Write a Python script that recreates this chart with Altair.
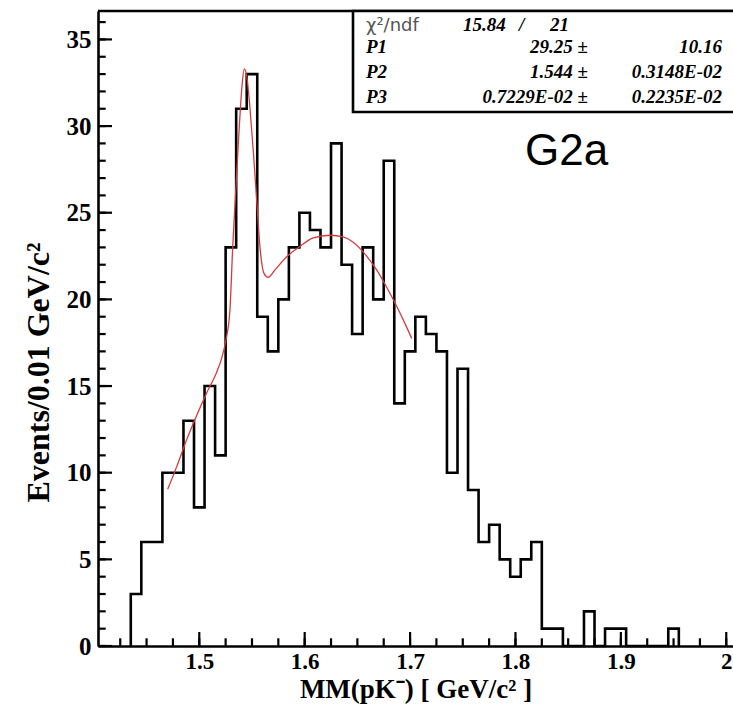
import altair as alt
import pandas as pd

# ---------------- data ----------------
bin_width = 0.01
bin_centers = [round(1.44 + bin_width * i, 3) for i in range(52)]
counts = [3, 6, 6, 10, 10, 13, 8, 15, 11, 23,
          31, 33, 19, 17, 20, 23, 25, 24, 23, 29,
          22, 18, 23, 20, 28, 14, 17, 19, 18, 17,
          10, 16, 9, 6, 7, 5, 4, 5, 6, 1,
          1, 0, 0, 2, 0, 1, 1, 0, 0, 0,
          0, 1]

fit_x = [1.470, 1.4786, 1.488, 1.4975, 1.507, 1.5165, 1.5212, 1.5253, 1.5291,
         1.5317, 1.5348, 1.538, 1.5405, 1.5427, 1.545, 1.548, 1.5512, 1.5545,
         1.5576, 1.5614, 1.5655, 1.5718, 1.5829, 1.5955, 1.608, 1.624, 1.6366,
         1.646, 1.6588, 1.6683, 1.6778, 1.6873, 1.6952, 1.7015]
fit_y = [9.04, 10.35, 11.9, 13.3, 14.6, 15.8, 16.6, 17.66, 19.4,
         23.0, 26.5, 30.0, 32.3, 33.3, 32.9, 31.1, 28.6, 25.7,
         23.0, 21.5, 21.27, 21.7, 22.46, 23.05, 23.55, 23.7, 23.6,
         23.3, 22.5, 21.7, 20.7, 19.6, 18.6, 17.75]

x_major = [1.5, 1.6, 1.7, 1.8, 1.9, 2.0]
x_minor = [round(1.425 + 0.025 * i, 3) for i in range(24)]
y_major = [0, 5, 10, 15, 20, 25, 30, 35]
y_minor = list(range(0, 37))

stat_names = ["P1", "P2", "P3"]
stat_vals = ["29.25 \u00b1", "1.544 \u00b1", "0.7229E-02 \u00b1"]
stat_errs = ["10.16", "0.3148E-02", "0.2235E-02"]
chi2_text = "15.84"
ndf_text = "21"

# ---------------- tables ----------------
step_x = [bin_centers[0] - bin_width / 2] + [c - bin_width / 2 for c in bin_centers] + [bin_centers[-1] + bin_width / 2]
step_y = [0] + counts + [0]
step_df = pd.DataFrame({"x": step_x, "y": step_y, "i": list(range(len(step_x)))})
fit_df = pd.DataFrame({"x": fit_x, "y": fit_y})

W, H = 635, 635
xs = alt.Scale(domain=[1.4039, 2.0064], nice=False, zero=False)
ys = alt.Scale(domain=[0, 36.64], nice=False, zero=False)
serif = "Liberation Serif"

x_axis = alt.Axis(values=x_major, format="~g", ticks=False, tickSize=0, labelPadding=4,
                  labelBaseline="top", labelFont=serif, labelFontWeight="bold", labelFontSize=23,
                  labelColor="black", domainColor="black", domainWidth=2.6, grid=False,
                  labelFlush=False, labelOverlap=False,
                  title="MM(pK\u207b) [ GeV/c\u00b2 ]", titleFont=serif, titleFontWeight="bold",
                  titleFontSize=27, titleColor="black", titleBaseline="alphabetic", titleY=51)
y_axis = alt.Axis(values=y_major, ticks=False, tickSize=0, labelPadding=7,
                  labelFont=serif, labelFontWeight="bold", labelFontSize=25, labelColor="black",
                  domainColor="black", domainWidth=2.6, grid=False, labelOverlap=False,
                  title="Events/0.01 GeV/c\u00b2", titleFont=serif, titleFontWeight="bold",
                  titleFontSize=32, titleColor="black", titleBaseline="middle",
                  titleX=-60, titleY=361, titleAngle=270)


def X(field):
    return alt.X(field, scale=xs, axis=x_axis)


def Y(field):
    return alt.Y(field, scale=ys, axis=y_axis)


hist = alt.Chart(step_df).mark_line(interpolate="step-after", color="black", strokeWidth=2.6).encode(
    x=X("x:Q"), y=Y("y:Q"), order=alt.Order("i:Q"),
)

fit = alt.Chart(fit_df).mark_line(interpolate="monotone", color="#d43c3c", strokeWidth=1.3).encode(
    x=X("x:Q"), y=Y("y:Q"),
)


def yticks(vals, length):
    return alt.Chart(pd.DataFrame({"y": vals})).mark_rule(color="black", strokeWidth=2.2).encode(
        y=Y("y:Q"), x=alt.value(0), x2=alt.value(length))


def xticks(vals, length):
    return alt.Chart(pd.DataFrame({"x": vals})).mark_rule(color="black", strokeWidth=2.2).encode(
        x=X("x:Q"), y=alt.value(H), y2=alt.value(H - length))


top_line = alt.Chart(pd.DataFrame({"a": [0]})).mark_rule(color="black", strokeWidth=2.6).encode(
    x=alt.value(0), x2=alt.value(W + 5), y=alt.value(0))

box = alt.Chart(pd.DataFrame({"a": [0]})).mark_rect(fill="white", stroke="black", strokeWidth=2.6).encode(
    x=alt.value(255), x2=alt.value(W + 20), y=alt.value(0), y2=alt.value(101))


def label(text, x, y, align="left", font=serif, size=19, weight="bold", style="italic", color="black"):
    return alt.Chart(pd.DataFrame({"t": [text]})).mark_text(
        align=align, baseline="alphabetic", font=font, fontSize=size, fontWeight=weight,
        fontStyle=style, color=color).encode(text="t:N", x=alt.value(x), y=alt.value(y))


row_y = [19.5, 42, 67, 92]
texts = [
    label("\u03c7\u00b2/ndf", 268, row_y[0], font="DejaVu Sans", size=18, weight="normal", style="normal", color="#555555"),
    label(chi2_text, 365, row_y[0]),
    label("/", 421, row_y[0]),
    label(ndf_text, 452, row_y[0]),
]
for k in range(3):
    texts.append(label(stat_names[k], 268, row_y[k + 1]))
    texts.append(label(stat_vals[k], 490, row_y[k + 1], align="right"))
    texts.append(label(stat_errs[k], 624, row_y[k + 1], align="right"))

g2a = label("G2a", 427, 154, font="Liberation Sans", size=44, weight="normal", style="normal")

chart = alt.layer(
    hist, fit,
    yticks(y_minor, 7.7), yticks(y_major, 14),
    xticks(x_minor, 7.7), xticks(x_major, 14),
    top_line, box, *texts, g2a,
).properties(
    width=W, height=H,
    padding={"left": 98, "top": 11, "right": 0, "bottom": 59},
    autosize=alt.AutoSizeParams(type="none"),
    background="white",
).configure_view(stroke=None)

chart.save("out.html", embed_options={"renderer": "svg", "actions": False})
